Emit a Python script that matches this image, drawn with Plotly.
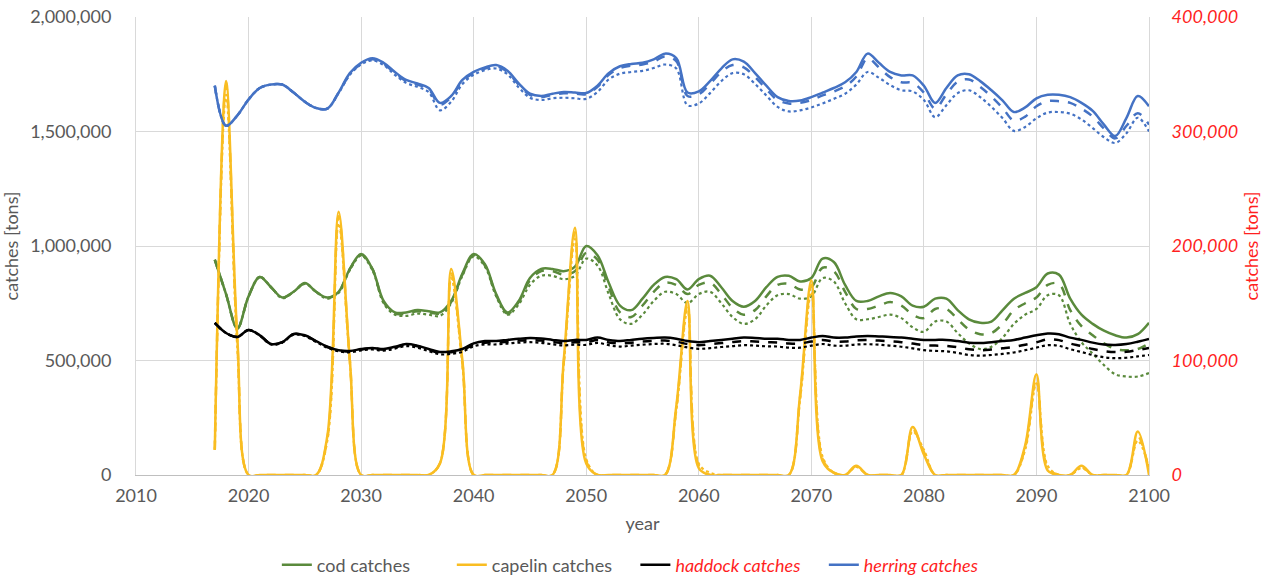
import plotly.graph_objects as go

years = list(range(2017, 2101))

# cod catches [million tons] (left axis)
cod_solid = [0.94, 0.79, 0.64,
    0.78, 0.865, 0.82, 0.775, 0.80, 0.838, 0.80, 0.775, 0.80, 0.90,
    0.965, 0.90, 0.76, 0.71, 0.71, 0.72, 0.715, 0.71, 0.76, 0.88,
    0.965, 0.92, 0.79, 0.71, 0.76, 0.86, 0.90, 0.90, 0.89, 0.91,
    1.00, 0.96, 0.84, 0.74, 0.72, 0.77, 0.83, 0.865, 0.855, 0.81,
    0.855, 0.87, 0.82, 0.76, 0.735, 0.76, 0.82, 0.865, 0.87, 0.845,
    0.86, 0.945, 0.93, 0.83, 0.76, 0.76, 0.78, 0.795, 0.78, 0.74,
    0.735, 0.77, 0.77, 0.72, 0.68, 0.665, 0.67, 0.72, 0.77, 0.795,
    0.82, 0.88, 0.875, 0.77, 0.70, 0.66, 0.63, 0.61, 0.60, 0.615,
    0.665]
cod_dash = [0.94, 0.79, 0.64,
    0.78, 0.865, 0.82, 0.775, 0.80, 0.836, 0.80, 0.772, 0.80, 0.90,
    0.962, 0.90, 0.755, 0.705, 0.705, 0.715, 0.71, 0.705, 0.755, 0.875,
    0.96, 0.915, 0.785, 0.705, 0.755, 0.85, 0.89, 0.89, 0.875, 0.89,
    0.97, 0.94, 0.82, 0.71, 0.69, 0.74, 0.80, 0.84, 0.83, 0.79,
    0.83, 0.84, 0.79, 0.73, 0.70, 0.72, 0.78, 0.83, 0.835, 0.81,
    0.82, 0.905, 0.89, 0.80, 0.725, 0.725, 0.74, 0.755, 0.74, 0.70,
    0.685, 0.725, 0.725, 0.68, 0.635, 0.615, 0.62, 0.66, 0.72, 0.75,
    0.775, 0.83, 0.835, 0.72, 0.65, 0.61, 0.575, 0.55, 0.545, 0.55,
    0.575]
cod_dot = [0.94, 0.79, 0.64,
    0.78, 0.865, 0.82, 0.772, 0.80, 0.835, 0.80, 0.77, 0.795, 0.895,
    0.958, 0.895, 0.75, 0.70, 0.695, 0.705, 0.70, 0.695, 0.75, 0.87,
    0.955, 0.91, 0.78, 0.70, 0.745, 0.83, 0.87, 0.87, 0.855, 0.87,
    0.945, 0.915, 0.79, 0.68, 0.66, 0.70, 0.76, 0.80, 0.79, 0.75,
    0.79, 0.80, 0.75, 0.69, 0.66, 0.68, 0.74, 0.785, 0.79, 0.77,
    0.78, 0.86, 0.845, 0.75, 0.68, 0.68, 0.69, 0.70, 0.685, 0.645,
    0.625, 0.67, 0.67, 0.62, 0.575, 0.55, 0.56, 0.60, 0.66, 0.70,
    0.725, 0.785, 0.785, 0.66, 0.58, 0.53, 0.48, 0.44, 0.43, 0.43,
    0.445]

# capelin catches [million tons] (left axis)
capelin_solid = [0.11, 1.72, 0.60,
    0.0, 0.0, 0.0, 0.0, 0.0, 0.0, 0.0, 0.17, 1.15, 0.50,
    0.0, 0.0, 0.0, 0.0, 0.0, 0.0, 0.0, 0.05, 0.90, 0.50,
    0.0, 0.0, 0.0, 0.0, 0.0, 0.0, 0.0, 0.0, 0.50, 1.08,
    0.05, 0.0, 0.0, 0.0, 0.0, 0.0, 0.0, 0.0, 0.30, 0.76,
    0.03, 0.0, 0.0, 0.0, 0.0, 0.0, 0.0, 0.0, 0.0, 0.35,
    0.85, 0.06, 0.01, 0.0, 0.04, 0.0, 0.0, 0.0, 0.0, 0.21,
    0.09, 0.0, 0.0, 0.0, 0.0, 0.0, 0.0, 0.0, 0.0, 0.13,
    0.44, 0.02, 0.0, 0.0, 0.04, 0.0, 0.0, 0.0, 0.0, 0.19,
    0.0]
capelin_dash = [0.11, 1.70, 0.58,
    0.0, 0.0, 0.0, 0.0, 0.0, 0.0, 0.0, 0.16, 1.13, 0.50,
    0.0, 0.0, 0.0, 0.0, 0.0, 0.0, 0.0, 0.05, 0.88, 0.49,
    0.0, 0.0, 0.0, 0.0, 0.0, 0.0, 0.0, 0.0, 0.49, 1.06,
    0.06, 0.0, 0.0, 0.0, 0.0, 0.0, 0.0, 0.0, 0.29, 0.74,
    0.04, 0.0, 0.0, 0.0, 0.0, 0.0, 0.0, 0.0, 0.0, 0.34,
    0.83, 0.07, 0.01, 0.0, 0.04, 0.0, 0.0, 0.0, 0.0, 0.20,
    0.10, 0.0, 0.0, 0.0, 0.0, 0.0, 0.0, 0.0, 0.0, 0.12,
    0.42, 0.03, 0.0, 0.0, 0.035, 0.0, 0.0, 0.0, 0.0, 0.17,
    0.02]
capelin_dot = [0.11, 1.66, 0.56,
    0.0, 0.0, 0.0, 0.0, 0.0, 0.0, 0.0, 0.15, 1.10, 0.49,
    0.0, 0.0, 0.0, 0.0, 0.0, 0.0, 0.0, 0.05, 0.86, 0.48,
    0.0, 0.0, 0.0, 0.0, 0.0, 0.0, 0.0, 0.0, 0.48, 1.03,
    0.07, 0.0, 0.0, 0.0, 0.0, 0.0, 0.0, 0.0, 0.28, 0.72,
    0.05, 0.01, 0.0, 0.0, 0.0, 0.0, 0.0, 0.0, 0.0, 0.33,
    0.80, 0.08, 0.01, 0.0, 0.035, 0.0, 0.0, 0.0, 0.0, 0.19,
    0.11, 0.0, 0.0, 0.0, 0.0, 0.0, 0.0, 0.0, 0.0, 0.11,
    0.40, 0.04, 0.0, 0.0, 0.03, 0.0, 0.0, 0.0, 0.0, 0.15,
    0.03]

# haddock catches [thousand tons] (right axis)
haddock_solid = [132.8, 124.0, 120.6,
    126.6, 122.0, 114.4, 116.0, 123.2, 122.0, 117.0, 112.0, 109.0, 108.4,
    110.0, 111.0, 110.0, 112.0, 114.4, 113.0, 110.0, 107.4, 108.0, 110.0,
    115.0, 117.0, 117.0, 118.0, 119.0, 119.6, 119.2, 118.0, 117.0, 118.0,
    118.0, 120.0, 118.0, 117.0, 118.0, 119.0, 119.6, 120.0, 119.0, 117.0,
    116.0, 117.0, 118.0, 119.0, 120.0, 119.6, 119.0, 119.0, 118.0, 118.0,
    120.0, 121.4, 120.0, 120.0, 121.0, 121.4, 121.0, 120.6, 120.0, 119.0,
    118.0, 118.0, 118.0, 117.0, 115.6, 115.2, 116.0, 117.0, 118.0, 120.0,
    122.0, 123.6, 123.0, 120.0, 118.0, 115.6, 114.0, 113.6, 114.4, 116.4,
    118.8]
haddock_dash = [132.8, 124.0, 120.6,
    126.6, 122.0, 114.4, 116.0, 123.0, 121.8, 116.8, 111.8, 108.6, 108.0,
    109.6, 110.6, 109.6, 111.4, 113.8, 112.4, 109.4, 106.8, 107.2, 109.0,
    113.8, 115.6, 115.6, 116.4, 117.4, 117.8, 117.4, 116.2, 115.2, 116.0,
    116.0, 117.8, 115.8, 114.8, 115.6, 116.6, 117.2, 117.4, 116.4, 114.4,
    113.4, 114.2, 115.2, 116.2, 117.0, 116.6, 116.0, 115.8, 114.8, 114.8,
    116.6, 118.0, 116.6, 116.6, 117.6, 117.8, 117.4, 116.8, 116.0, 114.8,
    113.4, 113.0, 112.8, 111.6, 109.8, 109.0, 109.6, 110.6, 111.8, 113.8,
    116.0, 118.4, 117.8, 114.8, 112.6, 110.0, 108.2, 107.4, 107.6, 109.2,
    111.0]
haddock_dot = [132.8, 124.0, 120.6,
    126.4, 121.8, 114.0, 115.6, 122.6, 121.4, 116.2, 111.2, 108.0, 107.2,
    108.8, 109.6, 108.6, 110.4, 112.6, 111.2, 108.2, 105.4, 105.8, 107.6,
    112.4, 114.0, 114.0, 114.8, 115.6, 116.0, 115.4, 114.2, 113.2, 113.8,
    113.6, 115.4, 113.4, 112.2, 113.0, 113.8, 114.4, 114.6, 113.4, 111.4,
    110.2, 110.8, 111.8, 112.6, 113.4, 113.0, 112.4, 112.2, 111.2, 111.2,
    113.0, 114.4, 113.0, 113.0, 114.0, 114.2, 113.8, 113.0, 112.0, 110.6,
    109.0, 108.4, 108.0, 106.6, 104.8, 104.2, 104.8, 105.8, 107.0, 109.0,
    111.2, 113.4, 112.8, 109.8, 107.4, 104.8, 102.8, 102.0, 102.4, 103.6,
    104.8]

# herring catches [thousand tons] (right axis)
herring_solid = [340, 305, 314,
    328, 338, 341, 341, 334, 326, 320.5, 320, 334, 351,
    360, 364, 360, 352, 345, 342, 338, 325, 331, 345,
    352, 356, 358, 353, 342, 333, 331, 333, 334.4, 334,
    333.6, 340, 351, 357, 359, 360, 363, 368, 364, 334,
    335, 344, 355, 363, 361, 351, 340, 330, 326.6, 327,
    330, 334, 338, 343, 352, 368, 360, 352, 349, 349,
    340, 325, 338, 349, 350, 344, 336, 327, 317, 321,
    329, 332, 332, 330, 325, 318, 306, 296, 312, 331,
    322]
herring_dash = [340, 305, 314,
    328, 338, 341, 341, 334, 326, 320.5, 320, 334, 350,
    359, 363, 359, 351, 344, 341, 337, 323.5, 330, 344,
    351, 355, 357, 352, 341, 332, 330, 332, 333.4, 333,
    332.6, 339, 349.5, 355.5, 357.5, 358.5, 361, 365.5, 361.5, 331,
    332.5, 341.5, 352, 358, 356, 347.5, 337, 327.5, 324.5, 325,
    327.5, 331.5, 335, 339.5, 348, 364, 356, 347.5, 343, 342.5,
    334, 320, 332.5, 343.5, 345.5, 339, 330.5, 320.5, 309.5, 313,
    322, 326.5, 326.5, 325, 320, 313, 302.5, 294, 305, 316,
    306]
herring_dot = [340, 305, 314,
    328, 338, 341, 341, 334, 326, 320.5, 320, 333.5, 349.5,
    358.5, 362, 358, 349.5, 342.5, 339, 334.5, 318.5, 326, 341.5,
    349.5, 353.5, 355, 350, 338.5, 329.5, 327.5, 329, 329.5, 329,
    328.5, 334.5, 345.5, 350.5, 352, 353, 355.5, 358.5, 355, 323,
    324.5, 333.5, 344, 351, 350, 341.5, 331.5, 321.5, 317.5, 318.5,
    321, 324.5, 328.5, 333, 341, 352, 347, 340.5, 336, 335,
    327.5, 312.5, 323, 333.5, 336, 330, 321.5, 311.5, 300.5, 304,
    311.5, 316.5, 317, 315.5, 310.5, 303, 295, 290, 298.5, 312,
    300]

COD = "#5A8A3C"
CAPELIN = "#F9BD22"
HADDOCK = "#000000"
HERRING = "#4472C4"
RED = "#FF1F1F"
GREY = "#595959"

fig = go.Figure()

def add(vals, color, dash, width, name, axis, show, scale):
    fig.add_trace(go.Scatter(
        x=years, y=[v * scale for v in vals], mode="lines",
        line=dict(color=color, dash=dash, width=width, shape="spline", smoothing=1.0),
        name=name, showlegend=show, yaxis=axis, hoverinfo="skip"))

cod_name = "cod catches" + "&nbsp;" * 8
cap_name = "capelin catches" + "&nbsp;" * 4
had_name = "<i><span style='color:%s'>haddock catches</span></i>" % RED + "&nbsp;" * 4
her_name = "<i><span style='color:%s'>herring catches</span></i>" % RED

for vals, dash, w, show in [(cod_dot, "dot", 2.2, False), (cod_dash, "dash", 2.5, False), (cod_solid, "solid", 2.5, True)]:
    add(vals, COD, dash, w, cod_name, "y", show, 1e6)
for vals, dash, w, show in [(capelin_dot, "dot", 2.2, False), (capelin_dash, "dash", 2.5, False), (capelin_solid, "solid", 2.5, True)]:
    add(vals, CAPELIN, dash, w, cap_name, "y", show, 1e6)
for vals, dash, w, show in [(haddock_dot, "dot", 2.2, False), (haddock_dash, "dash", 2.5, False), (haddock_solid, "solid", 2.5, True)]:
    add(vals, HADDOCK, dash, w, had_name, "y2", show, 1e3)
for vals, dash, w, show in [(herring_dot, "dot", 2.2, False), (herring_dash, "dash", 2.5, False), (herring_solid, "solid", 2.5, True)]:
    add(vals, HERRING, dash, w, her_name, "y2", show, 1e3)

fig.update_layout(
    width=1274, height=578,
    margin=dict(l=136, r=125, t=17, b=103, autoexpand=False),
    paper_bgcolor="white", plot_bgcolor="white",
    font=dict(family="Lato, Open Sans, sans-serif", size=18, color=GREY),
    showlegend=True,
    legend=dict(orientation="h", x=0.488, xanchor="center", y=-0.1965, yanchor="middle",
                font=dict(size=18, color=GREY), itemwidth=30, traceorder="normal",
                bgcolor="rgba(0,0,0,0)"),
    xaxis=dict(range=[2010, 2100], tick0=2010, dtick=10, showgrid=True, gridcolor="#D9D9D9",
               gridwidth=1, showline=True, linecolor="#BFBFBF", linewidth=1, zeroline=False,
               ticks="", ticklabelstandoff=4, automargin=False,
               title=dict(text="year", standoff=12, font=dict(size=18, color=GREY)),
               tickfont=dict(size=18, color=GREY)),
    yaxis=dict(range=[0, 2000000], tick0=0, dtick=500000, tickformat=",", showgrid=True,
               gridcolor="#D9D9D9", gridwidth=1, showline=True, linecolor="#D9D9D9",
               zeroline=False, ticks="", ticklabelstandoff=20, automargin=False,
               title=dict(text="catches [tons]", standoff=6, font=dict(size=18, color=GREY)),
               tickfont=dict(size=18, color=GREY)),
    yaxis2=dict(range=[0, 400000], tick0=0, dtick=100000, tickformat=",", overlaying="y",
                side="right", showgrid=False, showline=True, linecolor="#D9D9D9",
                zeroline=False, ticks="", ticklabelstandoff=18, automargin=False,
                title=dict(text="catches [tons]", standoff=8, font=dict(size=18, color=RED)),
                tickfont=dict(size=18, color=RED, style="italic")),
)

fig.write_html("out.html")
